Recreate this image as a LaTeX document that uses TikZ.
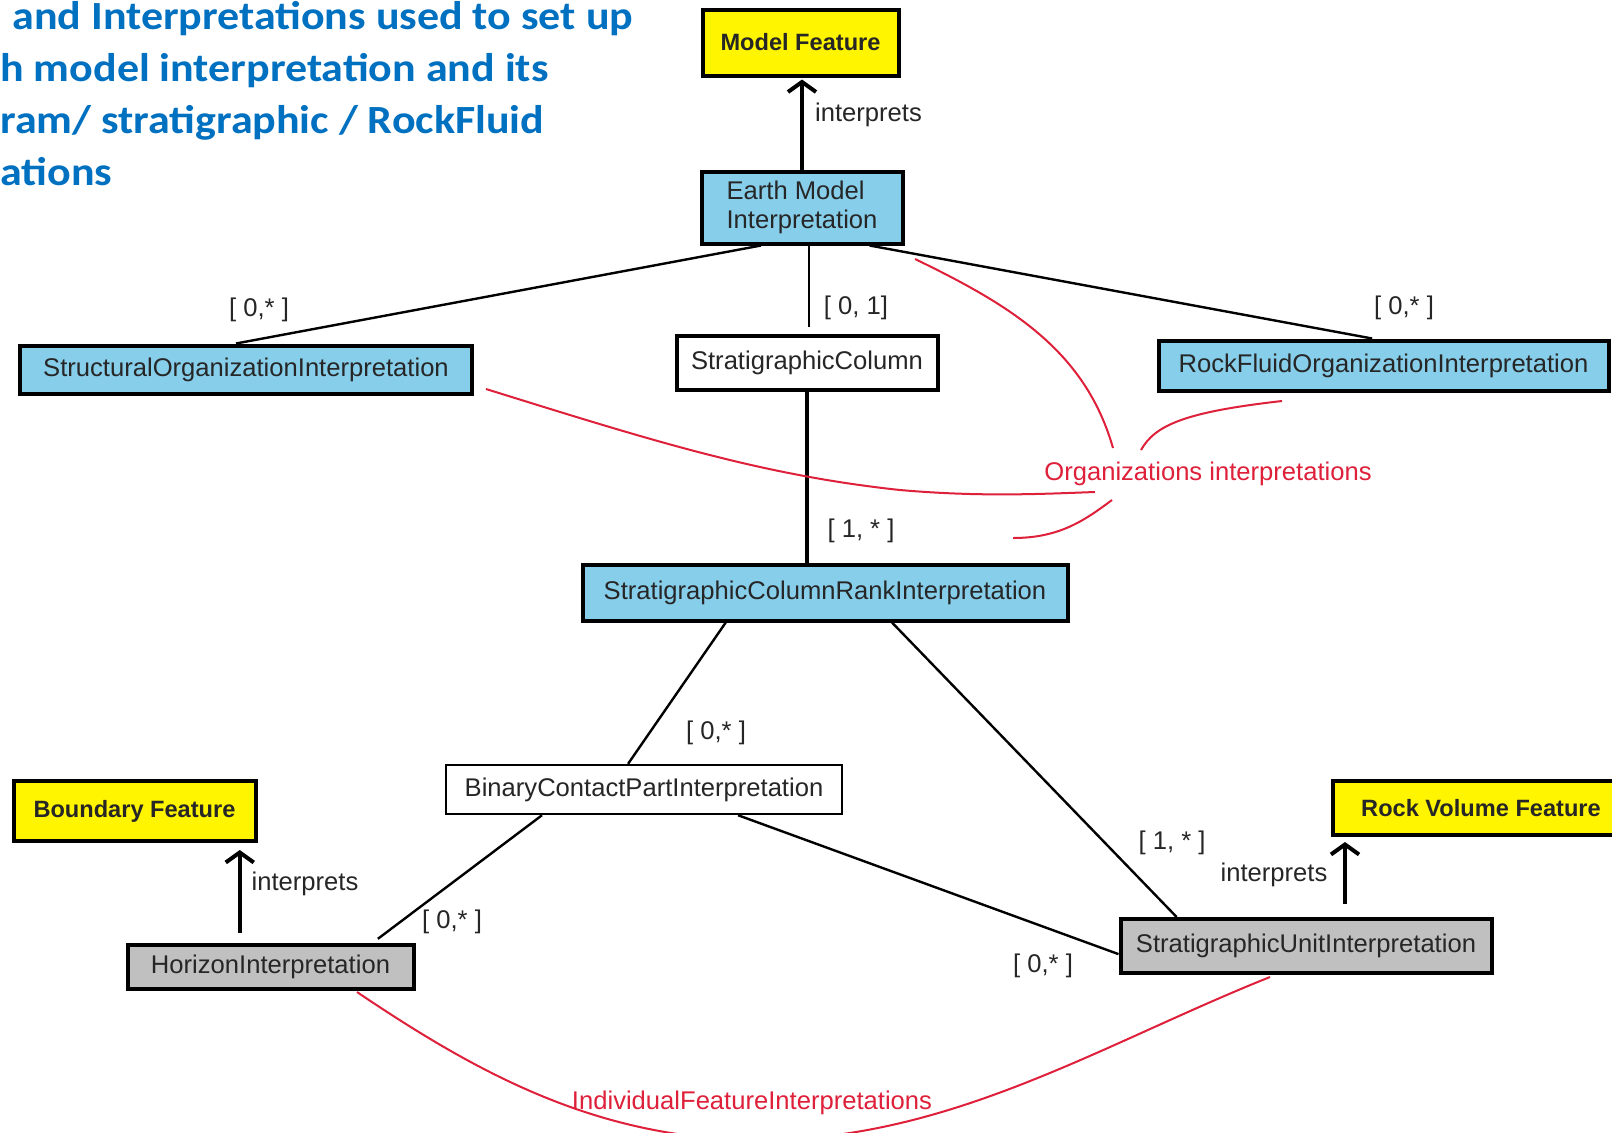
\documentclass[tikz,border=0pt]{standalone}
\usepackage{fontspec}
\setmainfont{Liberation Sans}
\newfontfamily\titlefont{Carlito}
\usetikzlibrary{arrows.meta,calc}

\definecolor{orgblue}{RGB}{135,206,235}
\definecolor{featyellow}{RGB}{255,245,0}
\definecolor{unitgray}{RGB}{192,192,192}
\definecolor{notered}{RGB}{222,32,58}
\definecolor{titleblue}{RGB}{0,112,192}

\newcommand\boxfont{\fontsize{12.8}{14.8}\selectfont}
\newcommand\featfont{\fontsize{11.8}{14}\selectfont\bfseries}
\newcommand\titlesize{\fontsize{20}{23}\selectfont}

\begin{document}
\begin{tikzpicture}[x=0.5pt,y=-0.5pt,
  box/.style={draw=black, line width=2pt, inner sep=0pt, font=\boxfont, text=black!85},
  bluebox/.style={box, fill=orgblue},
  yellowbox/.style={box, fill=featyellow, font=\featfont},
  graybox/.style={box, fill=unitgray},
  whitebox/.style={box, fill=white},
  link/.style={draw=black, line width=1.2pt},
  thinlink/.style={draw=black, line width=1pt},
  thicklink/.style={draw=black, line width=1.8pt},
  interp/.style={draw=black, line width=2pt, -{Straight Barb[length=5pt,width=14pt,line width=2pt]}},
  mult/.style={font=\boxfont, inner sep=0pt, text=black!85},
  note/.style={draw=notered, line width=1pt},
  notetext/.style={font=\boxfont, text=notered, inner sep=0pt},
  titleline/.style={font=\titlefont\bfseries\titlesize, text=titleblue, inner sep=0pt, anchor=base west}]

\clip (0,0) rectangle (1612,1132);
\fill[white] (0,0) rectangle (1612,1132);

% heading
\node[titleline] (t1) at (12,29)  {\scalebox{1.1}[1]{and Interpretations used to set up}};
\node[titleline] (t2) at (0,81)   {\scalebox{1.1}[1]{h model interpretation and its}};
\node[titleline] (t3) at (0,133)  {\scalebox{1.1}[1]{ram/ stratigraphic / RockFluid}};
\node[titleline] (t4) at (0,185)  {\scalebox{1.1}[1]{ations}};

% classes
\node[yellowbox, minimum width=98pt, minimum height=33pt] (mf) at (800.5,42.5) {Model Feature};
\node[bluebox, minimum width=100.5pt, minimum height=36pt, align=left] (emi) at (802,207.5) {Earth Model\\Interpretation};
\node[bluebox, minimum width=226pt, minimum height=24pt] (soi) at (246,369.5) {StructuralOrganizationInterpretation};
\node[whitebox, minimum width=130.5pt, minimum height=27pt] (sc) at (807,362.5) {StratigraphicColumn};
\node[bluebox, minimum width=225pt, minimum height=25pt] (rfoi) at (1383.5,365.5) {RockFluidOrganizationInterpretation};
\node[bluebox, minimum width=242.5pt, minimum height=28pt] (scri) at (825,592.5) {StratigraphicColumnRankInterpretation};
\node[whitebox, line width=1.2pt, minimum width=198pt, minimum height=24.5pt] (bcpi) at (644,789.5) {BinaryContactPartInterpretation};
\node[yellowbox, minimum width=121pt, minimum height=30pt] (bf) at (134.5,811) {Boundary Feature};
\node[graybox, minimum width=143pt, minimum height=22pt] (hi) at (270.5,967) {HorizonInterpretation};
\node[yellowbox, minimum width=148pt, minimum height=27pt] (rvf) at (1481,808) {Rock Volume Feature};
\node[graybox, minimum width=185.5pt, minimum height=27pt] (sui) at (1306,946) {StratigraphicUnitInterpretation};

% interprets arrows
\draw[interp, shorten >=1pt] (emi.north) -- (emi.north |- mf.south);
\coordinate (a9) at ($(hi.north west)!0.394!(hi.north east)$);
\draw[interp, shorten <=5pt, shorten >=3.5pt] (a9) -- (a9 |- bf.south);
\coordinate (a10) at ($(sui.north west)!0.604!(sui.north east)$);
\draw[interp, shorten <=6.5pt, shorten >=2.5pt] (a10) -- (a10 |- rvf.south);

% associations
\draw[link] ($(emi.south west)!0.30!(emi.south east)$) -- ($(soi.north west)!0.478!(soi.north east)$);
\coordinate (c2) at ($(emi.south west)!0.534!(emi.south east)$);
\draw[thinlink, shorten >=3.5pt] (c2) -- (c2 |- sc.north);
\draw[link] ($(emi.south west)!0.83!(emi.south east)$) -- ($(rfoi.north west)!0.475!(rfoi.north east)$);
\draw[thicklink] (sc.south) -- (sc.south |- scri.north);
\draw[link] ($(scri.south west)!0.297!(scri.south east)$) -- ($(bcpi.north west)!0.46!(bcpi.north east)$);
\draw[link] ($(scri.south west)!0.637!(scri.south east)$) -- ($(sui.north west)!0.155!(sui.north east)$);
\draw[link, shorten >=3.5pt] ($(bcpi.south west)!0.244!(bcpi.south east)$) -- ($(hi.north west)!0.851!(hi.north east)$);
\draw[link] ($(bcpi.south west)!0.736!(bcpi.south east)$) -- ($(sui.north west)!0.64!(sui.south west)$);

% labels
\node[mult] (l1) at (868.5,115) {interprets};
\node[mult] (l2) at (305,884) {interprets};
\node[mult] (l3) at (1274,875) {interprets};
\node[mult] (m1) at (259,310) {[ 0,* ]};
\node[mult] (m2) at (856,308) {[ 0, 1]};
\node[mult] (m3) at (1404,308) {[ 0,* ]};
\node[mult] (m4) at (861,531) {[ 1, * ]};
\node[mult] (m5) at (716,733) {[ 0,* ]};
\node[mult] (m6) at (1172,843) {[ 1, * ]};
\node[mult] (m7) at (452,922) {[ 0,* ]};
\node[mult] (m8) at (1043,966) {[ 0,* ]};

% red annotations
\draw[note] (486,389) .. controls (650,440) and (760,475) .. (900,490)
                      .. controls (980,497) and (1040,494) .. (1095,492);
\draw[note] (915,259) .. controls (1010,305) and (1085,350) .. (1113,448);
\draw[note] (1141,450) .. controls (1155,425) and (1185,412) .. (1282,401);
\draw[note] (1112,500) .. controls (1085,520) and (1060,538) .. (1013,538);
\node[notetext] (org) at (1208,474) {Organizations interpretations};

\draw[note] (357,992) .. controls (480,1075) and (600,1140) .. (760,1140)
                      .. controls (950,1140) and (1100,1045) .. (1270,977);
\node[notetext] (ind) at (752,1103) {IndividualFeatureInterpretations};

\end{tikzpicture}
\end{document}
